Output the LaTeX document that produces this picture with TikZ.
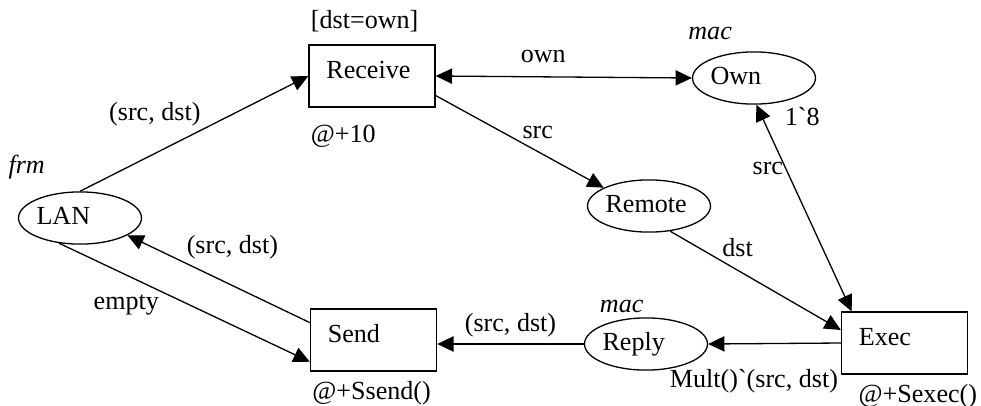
\documentclass[tikz,border=0pt]{standalone}
\usepackage{fontspec}
\setmainfont{Liberation Serif}
\usepackage{tikz}
\usetikzlibrary{shapes.geometric, arrows.meta, positioning}
\tikzstyle{place} = [ellipse, draw=black, line width=0.6pt, minimum width=56pt, minimum height=24pt, text width=40pt, inner sep=0pt, align=left, text height=8pt, text depth=2pt]
\tikzstyle{transition} = [rectangle, draw=black, line width=0.6pt, minimum width=58pt, minimum height=28.5pt, text width=42pt, inner xsep=8pt, inner ysep=0pt, align=left, text height=9pt, text depth=7pt]
\tikzstyle{inscr} = [inner sep=1pt]
\tikzstyle{arc} = [line width=0.6pt, ->, >={Triangle[length=7.5pt, width=7pt]}]

\begin{document}
\begin{tikzpicture}[x=0.46pt, y=-0.46pt, font=\fontsize{12pt}{14pt}\selectfont]
        \useasboundingbox (0,0) rectangle (981,405);

        % Places
        \node (lan) [place] at (80,218) {LAN};
        \node (own) [place] at (754,78) {Own};
        \node (remote) [place] at (649,206) {Remote};
        \node (reply) [place] at (646,344) {Reply};

        % Transitions
        \node (receive) [transition] at (372,76) {Receive};
        \node (exec) [transition] at (904.5,343) {Exec};
        \node (send) [transition] at (373.5,340) {Send};

        % Colour sets, marking, guard and times
        \node (lantype) [inscr, above left=4.5pt and 15pt of lan.north] {\textit{frm}};
        \node (owntype) [inscr, above left=4pt and 9pt of own.north] {\textit{mac}};
        \node (ownmark) [inscr, below right=0pt and 13pt of own.south] {1\textasciigrave 8};
        \node (replytype) [inscr, above left=1pt and 0pt of reply.north] {\textit{mac}};
        \node (recguard) [inscr, above right=4.5pt and 0pt of receive.north west] {[dst=own]};
        \node (rectime) [inscr, below right=7pt and 0pt of receive.south west] {@+10};
        \node (sendtime) [inscr, below right=3.5pt and 0pt of send.south west] {@+Ssend()};
        \node (exectime) [inscr, below right=3.5pt and 7pt of exec.south west] {@+Sexec()};

        % Arcs
        \draw [arc] (lan.north) -- node[inscr, pos=.54, anchor=south east] {(src, dst)} (receive.west);
        \draw [arc, <->] (receive.east) -- node[inscr, pos=.42, above=5pt] {own} (own.west);
        \draw [arc] ([yshift=-9pt]receive.east) -- node[inscr, pos=.5, anchor=south west] {src} (remote.158);
        \draw [arc, <->] (own.-85) -- node[inscr, pos=.31, left] {src} ([xshift=5pt]exec.north west);
        \draw [arc] (remote.-50) -- node[inscr, pos=.29, anchor=south west] {dst} ([yshift=6pt]exec.west);
        \draw [arc] (exec.west) -- node[inscr, pos=0, anchor=north east, yshift=-11pt] {Mult()\textasciigrave(src, dst)} (reply.east);
        \draw [arc] (reply.west) -- node[inscr, pos=.5, above=2pt] {(src, dst)} (send.east |- reply.west);
        \draw [arc] ([yshift=8pt]send.west) -- node[inscr, pos=.69, anchor=south west] {(src, dst)} (lan.-20);
        \draw [arc] (lan.-130) -- node[inscr, pos=.41, anchor=north east] {empty} ([yshift=-10pt]send.west);
    \end{tikzpicture}
\end{document}
